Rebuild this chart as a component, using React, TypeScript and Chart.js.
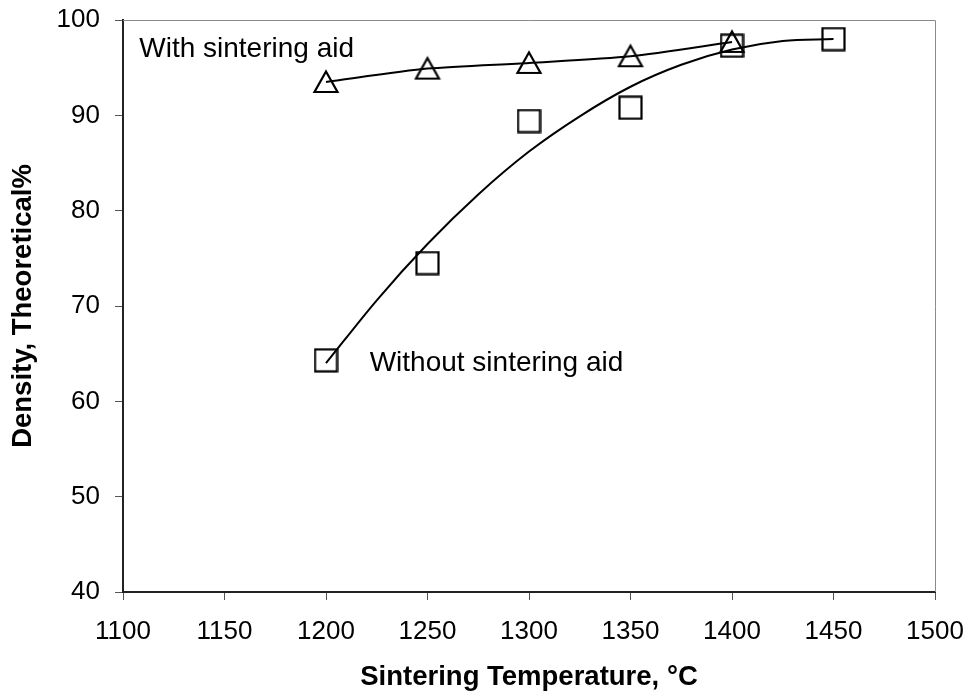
import React, { useEffect, useRef } from "react";
import { Chart, registerables } from "chart.js";

Chart.register(...registerables);

// ---- data ----
const tempsWith = [1200, 1250, 1300, 1350, 1400];
const densityWith = [93.5, 94.9, 95.5, 96.2, 97.7];

const tempsWithout = [1200, 1250, 1300, 1350, 1400, 1450];
const densityWithout = [64.3, 74.5, 89.4, 90.8, 97.3, 98.0];

// trend curves
const trendWithTemps = [1200, 1250, 1300, 1350, 1400];
const trendWithValues = [93.5, 94.9, 95.5, 96.2, 97.7];

const trendWithoutTemps = [1200, 1225, 1250, 1275, 1300, 1325, 1350, 1375, 1400, 1425, 1450];
const trendWithoutValues = [64.0, 70.6, 76.5, 81.7, 86.2, 89.9, 93.0, 95.3, 96.9, 97.8, 98.0];

const xTitle = "Sintering Temperature, °C";
const yTitle = "Density, Theoretical%";

const annotations = [
  { text: "With sintering aid", x: 1108, y: 96.9 },
  { text: "Without sintering aid", x: 1221.5, y: 64.0 },
];

const FONT = "'Liberation Sans', Arial, Helvetica, sans-serif";

function makeSquare(): HTMLCanvasElement {
  const c = document.createElement("canvas");
  c.width = 25;
  c.height = 25;
  const ctx = c.getContext("2d")!;
  ctx.strokeStyle = "#000";
  ctx.lineWidth = 2.2;
  ctx.lineJoin = "miter";
  ctx.strokeRect(1.5, 1.5, 22, 22);
  return c;
}

function makeTriangle(): HTMLCanvasElement {
  const c = document.createElement("canvas");
  c.width = 28;
  c.height = 28;
  const ctx = c.getContext("2d")!;
  ctx.strokeStyle = "#000";
  ctx.lineWidth = 2.2;
  ctx.lineJoin = "miter";
  ctx.beginPath();
  ctx.moveTo(14, 3.5);
  ctx.lineTo(25.5, 24);
  ctx.lineTo(2.5, 24);
  ctx.closePath();
  ctx.stroke();
  return c;
}

export default function App() {
  const ref = useRef<HTMLCanvasElement | null>(null);

  useEffect(() => {
    if (!ref.current) return;
    const square = makeSquare();
    const triangle = makeTriangle();

    const framePlugin = {
      id: "frame",
      beforeDatasetsDraw(chart: any) {
        const { ctx, chartArea } = chart;
        ctx.save();
        ctx.strokeStyle = "#8a8a8a";
        ctx.lineWidth = 1;
        ctx.beginPath();
        ctx.moveTo(chartArea.left, chartArea.top + 0.5);
        ctx.lineTo(chartArea.right + 0.5, chartArea.top + 0.5);
        ctx.lineTo(chartArea.right + 0.5, chartArea.bottom);
        ctx.stroke();
        ctx.restore();
      },
    };

    const textPlugin = {
      id: "labels",
      afterDatasetsDraw(chart: any) {
        const { ctx, scales } = chart;
        ctx.save();
        ctx.fillStyle = "#000";
        ctx.font = `28px ${FONT}`;
        ctx.textAlign = "left";
        ctx.textBaseline = "middle";
        for (const a of annotations) {
          ctx.fillText(a.text, scales.x.getPixelForValue(a.x), scales.y.getPixelForValue(a.y));
        }
        ctx.restore();
      },
    };

    const chart = new Chart(ref.current, {
      type: "scatter",
      data: {
        datasets: [
          {
            label: "With sintering aid",
            data: tempsWith.map((t, i) => ({ x: t, y: densityWith[i] })),
            pointStyle: triangle as any,
            pointRadius: 13,
            showLine: false,
          },
          {
            label: "Without sintering aid",
            data: tempsWithout.map((t, i) => ({ x: t, y: densityWithout[i] })),
            pointStyle: square as any,
            pointRadius: 13,
            showLine: false,
          },
          {
            label: "Trend with",
            data: trendWithTemps.map((t, i) => ({ x: t, y: trendWithValues[i] })),
            showLine: true,
            pointRadius: 0,
            borderColor: "#000",
            borderWidth: 2,
            tension: 0.25,
          },
          {
            label: "Trend without",
            data: trendWithoutTemps.map((t, i) => ({ x: t, y: trendWithoutValues[i] })),
            showLine: true,
            pointRadius: 0,
            borderColor: "#000",
            borderWidth: 2,
            cubicInterpolationMode: "monotone",
          },
        ],
      },
      options: {
        animation: false,
        responsive: false,
        devicePixelRatio: 1,
        layout: { padding: { top: 20, right: 33, left: 0, bottom: 0 } },
        plugins: {
          legend: { display: false },
          tooltip: { enabled: false },
        },
        scales: {
          x: {
            type: "linear",
            min: 1100,
            max: 1500,
            afterFit(scale: any) {
              scale.height = 103;
              scale.paddingLeft = 0;
              scale.paddingRight = 0;
            },
            ticks: {
              stepSize: 50,
              color: "#000",
              font: { family: FONT, size: 26 },
              padding: 16,
              maxRotation: 0,
              callback: (v: any) => String(v),
            },
            grid: {
              drawOnChartArea: false,
              drawTicks: true,
              tickLength: 8,
              tickColor: "#555",
              lineWidth: 1,
            },
            border: { color: "#222", width: 2 },
            title: {
              display: true,
              text: xTitle,
              color: "#000",
              font: { family: FONT, size: 27.5, weight: "bold" },
              padding: { top: 0, bottom: 1.5 },
            },
          },
          y: {
            type: "linear",
            min: 40,
            max: 100,
            afterFit(scale: any) {
              scale.width = 123;
              scale.paddingTop = 0;
              scale.paddingBottom = 0;
            },
            ticks: {
              stepSize: 10,
              color: "#000",
              font: { family: FONT, size: 26 },
              padding: 15,
              callback: (v: any) => String(v),
            },
            grid: {
              drawOnChartArea: false,
              drawTicks: true,
              tickLength: 8,
              tickColor: "#555",
              lineWidth: 1,
            },
            border: { color: "#222", width: 2 },
            title: {
              display: true,
              text: yTitle,
              color: "#000",
              font: { family: FONT, size: 27.5, weight: "bold" },
              padding: { top: 6.5, bottom: 0 },
            },
          },
        },
      },
      plugins: [framePlugin, textPlugin],
    } as any);

    return () => chart.destroy();
  }, []);

  return (
    <div style={{ position: "fixed", left: 0, top: 0, width: 968, height: 695, background: "#fff" }}>
      <canvas ref={ref} width={968} height={695} style={{ display: "block" }} />
    </div>
  );
}
